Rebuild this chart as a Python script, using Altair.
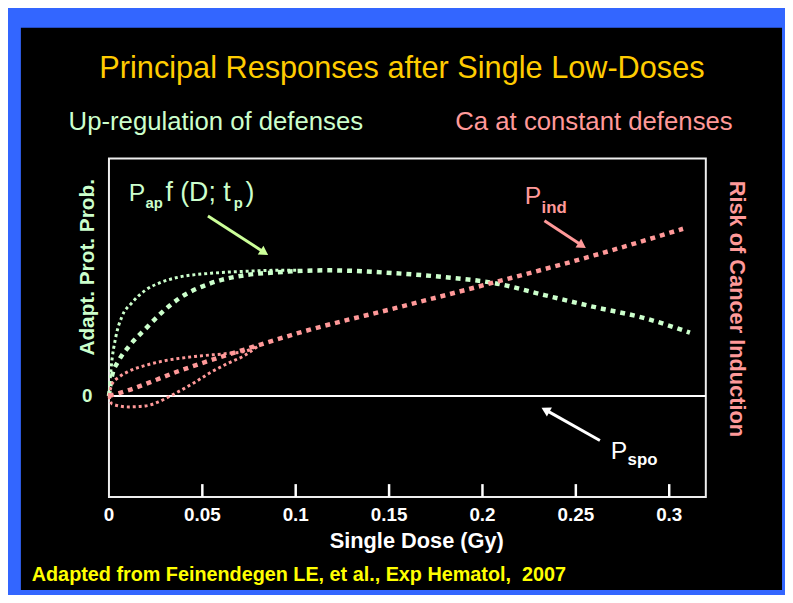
import altair as alt
import pandas as pd

# ---------------- data ----------------
# Adaptive protection, thick dashed green
ap_dose = [0, 0.0016, 0.0053, 0.0106, 0.0196, 0.0281, 0.0371, 0.0546, 0.0726, 0.0901,
           0.1166, 0.1537, 0.1802, 0.2067, 0.2332, 0.2597, 0.2862, 0.3111]
ap_val = [0, 0.20, 0.36, 0.50, 0.68, 0.84, 0.98, 1.14, 1.22, 1.25,
          1.27, 1.24, 1.20, 1.14, 1.02, 0.90, 0.79, 0.64]
# Adaptive protection, thin dotted green
ap2_dose = [0, 0.0011, 0.0037, 0.0069, 0.0122, 0.0196, 0.0281, 0.0371, 0.0546, 0.0726, 0.0901, 0.1007]
ap2_val = [0, 0.27, 0.60, 0.80, 0.94, 1.07, 1.15, 1.20, 1.24, 1.26, 1.27, 1.27]
# Cancer induction, thick dashed pink (P_ind)
ind_dose = [0, 0.0106, 0.0371, 0.0726, 0.1076, 0.1537, 0.2067, 0.2597, 0.3074]
ind_val = [0, 0.06, 0.25, 0.47, 0.67, 0.89, 1.15, 1.42, 1.69]
# Cancer induction, upper dotted pink
up_dose = [0, 0.0016, 0.0053, 0.0106, 0.0196, 0.0281, 0.0461, 0.0636, 0.0726, 0.0795]
up_val = [0, 0.12, 0.19, 0.25, 0.31, 0.35, 0.40, 0.43, 0.45, 0.51]
# Cancer induction, lower dotted pink
lo_dose = [0, 0.0016, 0.0106, 0.0196, 0.0265, 0.0318, 0.0397, 0.0461, 0.0546, 0.0636, 0.0726, 0.0795]
lo_val = [0, -0.08, -0.11, -0.10, -0.06, -0.01, 0.07, 0.14, 0.24, 0.33, 0.41, 0.50]

x_ticks = [0, 0.05, 0.1, 0.15, 0.2, 0.25, 0.3]
x_labels = ["0", "0.05", "0.1", "0.15", "0.2", "0.25", "0.3"]
inner_ticks = [0.05, 0.1, 0.15, 0.2, 0.25, 0.3]

GREEN = "#ccffcc"
PINK = "#ff9999"
BLUE = "#3366ff"
FONT = "Liberation Sans"

W, H = 603, 342
xs = alt.Scale(domain=[0, 0.3196], nice=False, zero=False)
ys = alt.Scale(domain=[-1.02, 2.40], nice=False, zero=False)


def curve(dose, val, color, width, dash):
    df = pd.DataFrame({"dose": dose, "val": val})
    return alt.Chart(df).mark_line(
        color=color, strokeWidth=width, strokeDash=dash, strokeCap="butt",
        interpolate="monotone"
    ).encode(
        x=alt.X("dose:Q", scale=xs, axis=None),
        y=alt.Y("val:Q", scale=ys, axis=None),
    )


def txt(s, x, y, color, size, bold=False, align="left", angle=0, baseline="alphabetic"):
    kw = dict(text=s, color=color, fontSize=size, font=FONT, align=align, baseline=baseline)
    if bold:
        kw["fontWeight"] = "bold"
    if angle:
        kw["angle"] = angle
    return alt.Chart(pd.DataFrame({"a": [0]})).mark_text(**kw).encode(
        x=alt.value(x), y=alt.value(y))


def arrow(x1, y1, x2, y2, ang, color):
    line = alt.Chart(pd.DataFrame({"a": [0]})).mark_rule(color=color, strokeWidth=3).encode(
        x=alt.value(x1), x2=alt.value(x2), y=alt.value(y1), y2=alt.value(y2))
    head = alt.Chart(pd.DataFrame({"a": [0]})).mark_point(
        shape="triangle-up", filled=True, color=color, size=110, opacity=1,
        angle=ang).encode(x=alt.value(x2), y=alt.value(y2))
    return [line, head]


background = alt.Chart(pd.DataFrame({"a": [0]})).mark_rect(color="black").encode(
    x=alt.value(-89), x2=alt.value(680), y=alt.value(-132), y2=alt.value(436))

frame = alt.Chart(pd.DataFrame({"a": [0]})).mark_rect(
    fillOpacity=0, stroke="#eeeeee", strokeWidth=2).encode(
    x=alt.value(0), x2=alt.value(W), y=alt.value(0), y2=alt.value(H))

zero_line = alt.Chart(pd.DataFrame({"yv": [0]})).mark_rule(color="white", strokeWidth=2).encode(
    y=alt.Y("yv:Q", scale=ys, axis=None), x=alt.value(0), x2=alt.value(W))

ticks = alt.Chart(pd.DataFrame({"t": inner_ticks})).mark_rule(color="white", strokeWidth=2.5).encode(
    x=alt.X("t:Q", scale=xs, axis=None), y=alt.value(H - 13), y2=alt.value(H))

tick_labels = alt.Chart(pd.DataFrame({"t": x_ticks, "lab": x_labels})).mark_text(
    color="white", font=FONT, fontWeight="bold", fontSize=19, baseline="alphabetic", align="center"
).encode(
    x=alt.X("t:Q", scale=xs, axis=None), y=alt.value(366), text="lab:N")

layers = [
    background,
    frame,
    zero_line,
    ticks,
    tick_labels,
    curve(ap2_dose, ap2_val, GREEN, 3, [3, 3]),
    curve(ap_dose, ap_val, GREEN, 4.5, [5, 5]),
    curve(up_dose, up_val, PINK, 3, [3, 3]),
    curve(lo_dose, lo_val, PINK, 3, [3, 3]),
    curve(ind_dose, ind_val, PINK, 4.5, [5, 5]),
    # titles
    txt("Principal Responses after Single Low-Doses", 296, -81, "#ffcc00", 31, align="center"),
    txt("Up-regulation of defenses", 108, -29, GREEN, 26, align="center"),
    txt("Ca at constant defenses", 490, -29, PINK, 26, align="center"),
    # axis title
    txt("Single Dose (Gy)", 311, 394, "white", 22, bold=True, align="center"),
    # side labels
    txt("Adapt. Prot. Prob.", -21, 110, GREEN, 21, bold=True, align="center", angle=270, baseline="middle"),
    txt("0", -22, 240, GREEN, 19, bold=True, align="center", baseline="middle"),
    txt("Risk of Cancer Induction", 634, 152, PINK, 22, bold=True, align="center", angle=90, baseline="middle"),
    # footer
    txt("Adapted from Feinendegen LE, et al., Exp Hematol,\u00a0 2007", -78, 427, "#ffff00", 20, bold=True),
    # P_ap f (D; t_p)
    txt("P", 20, 43, GREEN, 25),
    txt("ap", 37, 50, GREEN, 15, bold=True),
    txt("f (D; t", 57, 43, GREEN, 27),
    txt("p", 126, 50, GREEN, 15, bold=True),
    txt(")", 138, 43, GREEN, 27),
    # P_ind
    txt("P", 420, 46, PINK, 25),
    txt("ind", 437, 55, PINK, 17, bold=True),
    # P_spo
    txt("P", 507, 304, "white", 25),
    txt("spo", 524, 310, "white", 17, bold=True),
]
layers += arrow(100, 58, 157, 95, 123, "#ccff99")
layers += arrow(440, 63, 478, 88, 123, PINK)
layers += arrow(496, 285, 441, 254, 299, "white")

chart = alt.layer(*layers).properties(
    width=W, height=H,
    background=BLUE,
    padding={"left": 102, "top": 149, "right": 80, "bottom": 96},
    autosize=alt.AutoSizeParams(type="none"),
).configure_view(strokeWidth=0)

chart.save("out.html", embed_options={"renderer": "svg", "actions": False})
